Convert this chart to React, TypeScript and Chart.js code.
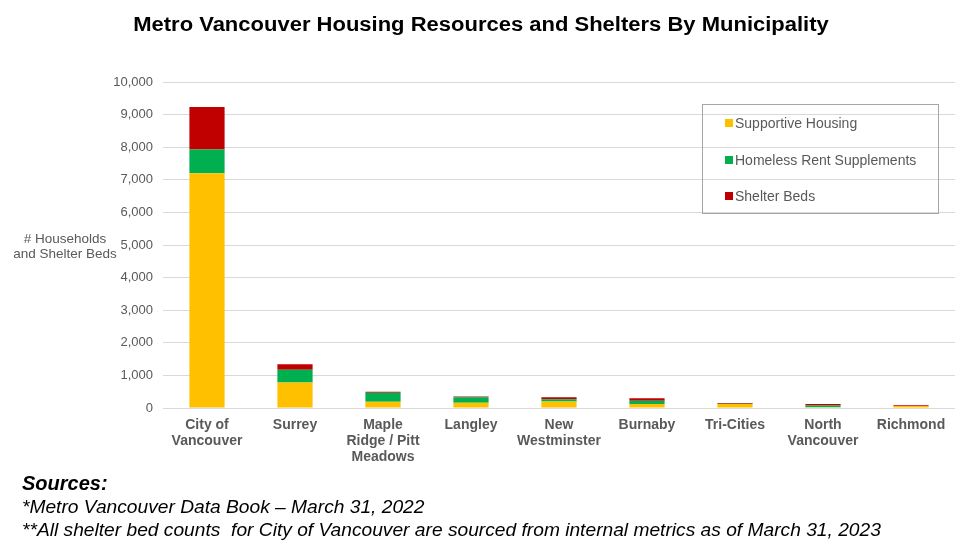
import React, { useEffect, useRef } from "react";
import { Chart, registerables } from "chart.js";

Chart.register(...registerables);

const categories: string[][] = [
  ["City of", "Vancouver"],
  ["Surrey"],
  ["Maple", "Ridge / Pitt", "Meadows"],
  ["Langley"],
  ["New", "Westminster"],
  ["Burnaby"],
  ["Tri-Cities"],
  ["North", "Vancouver"],
  ["Richmond"],
];
const supportiveHousing = [7200, 780, 190, 160, 200, 125, 120, 20, 60];
const rentSupplements = [730, 390, 280, 170, 70, 100, 10, 60, 5];
const shelterBeds = [1300, 170, 30, 20, 60, 75, 25, 40, 20];
const seriesNames = ["Supportive Housing", "Homeless Rent Supplements", "Shelter Beds"];
const seriesColors = ["#FFC000", "#00B050", "#C00000"];
const yMax = 10000;
const yStep = 1000;

const FONT = "'Liberation Sans', Arial, sans-serif";
const GREY = "#595959";

export default function App() {
  const canvasRef = useRef<HTMLCanvasElement | null>(null);

  useEffect(() => {
    const ctx = canvasRef.current;
    if (!ctx) return;
    const values = [supportiveHousing, rentSupplements, shelterBeds];
    const chart = new Chart(ctx, {
      type: "bar",
      data: {
        labels: categories,
        datasets: values.map((v, i) => ({
          label: seriesNames[i],
          data: v,
          backgroundColor: seriesColors[i],
          borderWidth: 0,
          barPercentage: 0.4,
          categoryPercentage: 1,
        })),
      },
      options: {
        animation: false,
        responsive: false,
        maintainAspectRatio: false,
        layout: { padding: { top: 82, right: 5, bottom: 0, left: 0 } },
        plugins: {
          legend: { display: false },
          title: { display: false },
          tooltip: { enabled: false },
        },
        scales: {
          x: {
            stacked: true,
            grid: { display: false, drawTicks: false },
            border: { display: false },
            ticks: {
              color: GREY,
              font: { family: FONT, size: 14, weight: "bold", lineHeight: 1.15 },
              padding: 9,
              maxRotation: 0,
              autoSkip: false,
            },
            afterFit: (s: any) => {
              s.height = 150;
            },
          },
          y: {
            stacked: true,
            min: 0,
            max: yMax,
            ticks: {
              stepSize: yStep,
              color: GREY,
              font: { family: FONT, size: 13 },
              padding: 10,
              callback: (v: any) => Number(v).toLocaleString("en-US"),
            },
            grid: { color: "#d9d9d9", lineWidth: 1, drawTicks: false },
            border: { display: false },
            afterFit: (s: any) => {
              s.width = 163;
            },
          },
        },
      },
    });
    return () => chart.destroy();
  }, []);

  return (
    <div
      style={{
        position: "absolute",
        left: 0,
        top: 0,
        width: 960,
        height: 558,
        background: "#fff",
        fontFamily: FONT,
      }}
    >
      <canvas ref={canvasRef} width={960} height={558} style={{ position: "absolute", left: 0, top: 0 }} />
      <div
        style={{
          position: "absolute",
          left: 0,
          top: 13,
          width: 962,
          textAlign: "center",
          fontSize: 20,
          fontWeight: "bold",
          color: "#000",
          transform: "scaleX(1.1)",
          transformOrigin: "481px 0",
        }}
      >
        Metro Vancouver Housing Resources and Shelters By Municipality
      </div>
      <div
        style={{
          position: "absolute",
          left: 5,
          top: 231,
          width: 120,
          textAlign: "center",
          fontSize: 13.5,
          lineHeight: "15px",
          color: GREY,
        }}
      >
        # Households
        <br />
        and Shelter Beds
      </div>
      <div
        style={{
          position: "absolute",
          left: 702,
          top: 104,
          width: 237,
          height: 110,
          border: "1px solid #a6a6a6",
          boxSizing: "border-box",
        }}
      >
        {seriesNames.map((n, i) => (
          <div
            key={n}
            style={{
              position: "absolute",
              left: 22,
              top: 9 + i * 36.5,
              height: 18,
              display: "flex",
              alignItems: "center",
              fontSize: 14,
              color: GREY,
              whiteSpace: "nowrap",
            }}
          >
            <span
              style={{
                display: "inline-block",
                width: 8,
                height: 8,
                background: seriesColors[i],
                marginRight: 2,
              }}
            />
            {n}
          </div>
        ))}
      </div>
      <div
        style={{
          position: "absolute",
          left: 22,
          top: 471,
          fontStyle: "italic",
          color: "#000",
        }}
      >
        <div style={{ fontSize: 20, fontWeight: "bold", lineHeight: "24px" }}>Sources:</div>
        <div style={{ fontSize: 19.2, lineHeight: "23px", whiteSpace: "pre" }}>*Metro Vancouver Data Book – March 31, 2022</div>
        <div style={{ fontSize: 19.2, lineHeight: "23px", whiteSpace: "pre" }}>
          {"**All shelter bed counts  for City of Vancouver are sourced from internal metrics as of March 31, 2023"}
        </div>
      </div>
    </div>
  );
}
